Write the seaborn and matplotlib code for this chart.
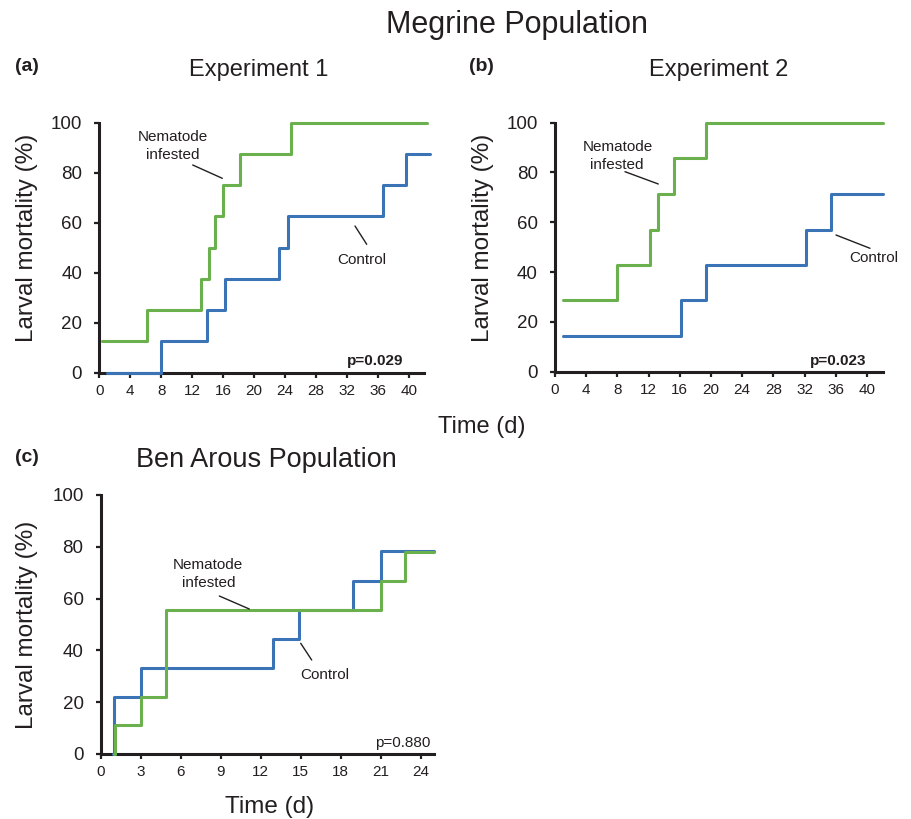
import matplotlib
matplotlib.use("Agg")
import matplotlib.pyplot as plt
import seaborn as sns
from matplotlib.lines import Line2D

# ---------------- data ----------------
# Panel (a) Megrine, Experiment 1
a_inf_days = [0.3, 6.2, 13.1, 14.2, 15.0, 16.0, 18.2, 24.8, 42.3]
a_inf_mort = [12.5, 25.0, 37.5, 50.0, 62.5, 75.0, 87.5, 100.0, 100.0]
a_ctl_days = [1.0, 8.0, 13.9, 16.2, 23.2, 24.4, 36.6, 39.6, 42.7]
a_ctl_mort = [0.0, 12.5, 25.0, 37.5, 50.0, 62.5, 75.0, 87.5, 87.5]
# Panel (b) Megrine, Experiment 2
b_inf_days = [1.0, 8.0, 12.2, 13.2, 15.3, 19.3, 42.0]
b_inf_mort = [28.6, 42.9, 57.1, 71.4, 85.7, 100.0, 100.0]
b_ctl_days = [1.0, 16.2, 19.3, 32.2, 35.4, 42.1]
b_ctl_mort = [14.3, 28.6, 42.9, 57.1, 71.4, 71.4]
# Panel (c) Ben Arous
c_inf_days = [1.0, 1.1, 3.0, 4.9, 21.0, 22.8, 25.0]
c_inf_mort = [0.0, 11.1, 22.2, 55.6, 66.7, 77.8, 77.8]
c_ctl_days = [0.9, 1.0, 3.0, 12.9, 14.9, 18.95, 21.0, 25.0]
c_ctl_mort = [0.0, 22.2, 33.3, 44.4, 55.6, 66.7, 78.5, 78.5]

y_ticks = [0, 20, 40, 60, 80, 100]
ab_x_ticks = [0, 4, 8, 12, 16, 20, 24, 28, 32, 36, 40]
c_x_ticks = [0, 3, 6, 9, 12, 15, 18, 21, 24]
p_values = ["p=0.029", "p=0.023", "p=0.880"]

# ---------------- style ----------------
sns.set_style("ticks")
plt.rcParams['font.family'] = ['Liberation Sans', 'DejaVu Sans']
TXT = "#231f20"
GREEN = "#6ab04c"
BLUE = "#3b74b6"

W, H = 911, 819
fig = plt.figure(figsize=(W / 100, H / 100), dpi=100)


def px_axes(l, t, r, b):
    return fig.add_axes([l / W, 1 - b / H, (r - l) / W, (b - t) / H])


def ftext(x, y, s, **kw):
    kw.setdefault("color", TXT)
    fig.text(x / W, 1 - y / H, s, **kw)


def fline(x0, y0, x1, y1):
    fig.add_artist(Line2D([x0 / W, x1 / W], [1 - y0 / H, 1 - y1 / H],
                          color=TXT, lw=1.0, transform=fig.transFigure))


def style_axes(ax, xmax, xticks):
    ax.set_xlim(0, xmax)
    ax.set_ylim(0, 100)
    ax.set_xticks(xticks)
    ax.set_yticks(y_ticks)
    for side in ["top", "right"]:
        ax.spines[side].set_visible(False)
    for side in ["left", "bottom"]:
        ax.spines[side].set_linewidth(2.2)
        ax.spines[side].set_color(TXT)
        ax.spines[side].set_zorder(2)
    ax.tick_params(axis="both", direction="out", length=3.8, width=1.6, color=TXT)
    ax.tick_params(axis="y", labelsize=13.5, pad=8.5, labelcolor=TXT)
    ax.tick_params(axis="x", labelsize=11, pad=4, labelcolor=TXT)
    ax.set_xlabel("")
    ax.set_ylabel("")
    ax.set_facecolor("white")


def draw(ax, days, mort, color):
    sns.lineplot(x=days, y=mort, ax=ax, color=color, lw=2.2,
                 drawstyle="steps-post", estimator=None, sort=False,
                 legend=False, clip_on=False, zorder=5)


# ---------------- panels ----------------
ax_a = px_axes(99.3, 122.7, 99.3 + 42 * 7.74, 372.7)
draw(ax_a, a_inf_days, a_inf_mort, GREEN)
draw(ax_a, a_ctl_days, a_ctl_mort, BLUE)
style_axes(ax_a, 42, ab_x_ticks)

ax_b = px_axes(555, 122.7, 555 + 42 * 7.8, 371.7)
draw(ax_b, b_inf_days, b_inf_mort, GREEN)
draw(ax_b, b_ctl_days, b_ctl_mort, BLUE)
style_axes(ax_b, 42, ab_x_ticks)

ax_c = px_axes(100.7, 495, 100.7 + 25 * 13.33, 754)
draw(ax_c, c_ctl_days, c_ctl_mort, BLUE)
draw(ax_c, c_inf_days, c_inf_mort, GREEN)
style_axes(ax_c, 25, c_x_ticks)

# ---------------- titles & labels ----------------
ftext(516.7, 32.7, "Megrine Population", fontsize=22, ha="center", va="baseline")
ftext(258.8, 76, "Experiment 1", fontsize=17, ha="center", va="baseline")
ftext(718.3, 76, "Experiment 2", fontsize=17, ha="center", va="baseline")
ftext(266.7, 467, "Ben Arous Population", fontsize=19.5, ha="center", va="baseline")
ftext(15, 71, "(a)", fontsize=14, fontweight="bold", ha="left", va="baseline")
ftext(469, 71, "(b)", fontsize=14, fontweight="bold", ha="left", va="baseline")
ftext(15, 461.5, "(c)", fontsize=14, fontweight="bold", ha="left", va="baseline")

ftext(481.5, 432.7, "Time (d)", fontsize=17, ha="center", va="baseline")
ftext(269.3, 812.7, "Time (d)", fontsize=17.5, ha="center", va="baseline")

for x, y in [(27, 238), (483, 238), (27, 625)]:
    ftext(x, y, "Larval mortality (%)", fontsize=17.5, rotation=90,
          ha="center", va="center")

# ---------------- annotations ----------------
ANN = 11
ftext(173.3, 140.7, "Nematode", fontsize=ANN, ha="center", va="baseline")
ftext(172.5, 159.3, "infested", fontsize=ANN, ha="center", va="baseline")
fline(192.7, 165, 222.3, 178.3)
ftext(362, 264, "Control", fontsize=ANN, ha="center", va="baseline")
fline(355, 226, 366.7, 244.3)

ftext(617.5, 150.7, "Nematode", fontsize=ANN, ha="center", va="baseline")
ftext(617.2, 169.3, "infested", fontsize=ANN, ha="center", va="baseline")
fline(625, 171.7, 658.3, 184)
ftext(873.3, 262.3, "Control", fontsize=ANN, ha="center", va="baseline")
fline(836, 235, 870, 248.3)

ftext(208.3, 569.3, "Nematode", fontsize=ANN, ha="center", va="baseline")
ftext(208.7, 587.3, "infested", fontsize=ANN, ha="center", va="baseline")
fline(219.3, 596, 249.3, 609)
ftext(324.7, 679, "Control", fontsize=ANN, ha="center", va="baseline")
fline(300.7, 643.3, 311.7, 660)

ftext(403.3, 365, p_values[0], fontsize=11, fontweight="bold", ha="right", va="baseline")
ftext(866.7, 365, p_values[1], fontsize=11, fontweight="bold", ha="right", va="baseline")
ftext(430, 746.7, p_values[2], fontsize=11, ha="right", va="baseline")

fig.savefig("out.png", dpi=100, facecolor="white")
